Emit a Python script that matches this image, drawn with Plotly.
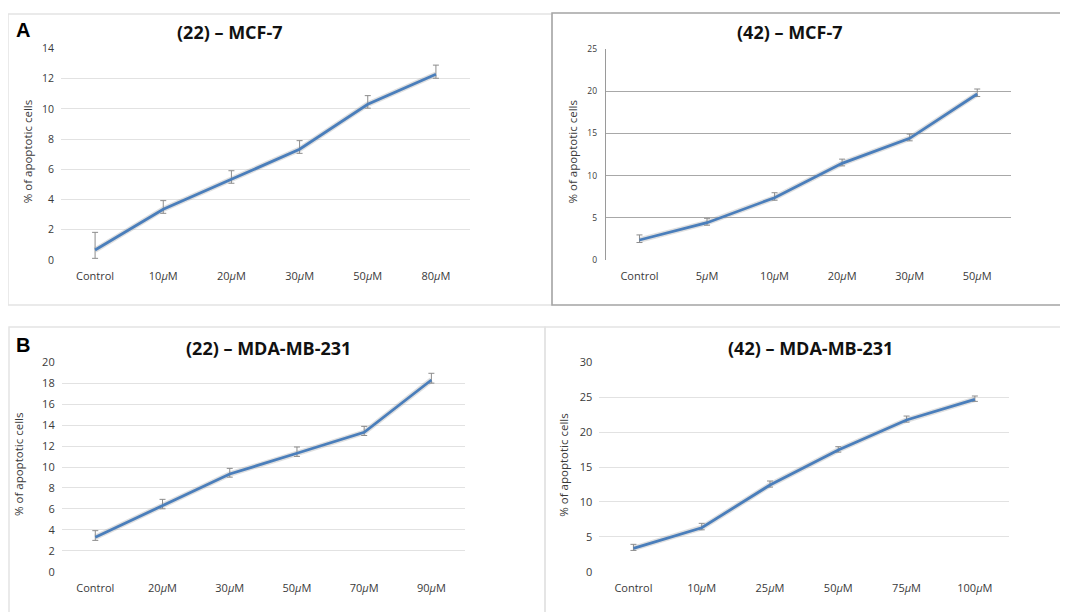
import plotly.graph_objects as go

# page is rendered with an 8px body margin; size the figure to fit the window
OFF = 8
W, H = 1068 - OFF, 612 - OFF

# ---------------- data ----------------
cat_22_mcf = ["Control", "10<i>μ</i>M", "20<i>μ</i>M", "30<i>μ</i>M", "50<i>μ</i>M", "80<i>μ</i>M"]
val_22_mcf = [0.66, 3.36, 5.34, 7.33, 10.31, 12.3]
up_22_mcf = [1.17, 0.57, 0.57, 0.57, 0.57, 0.6]
dn_22_mcf = [0.55, 0.27, 0.26, 0.27, 0.26, 0.27]

cat_42_mcf = ["Control", "5<i>μ</i>M", "10<i>μ</i>M", "20<i>μ</i>M", "30<i>μ</i>M", "50<i>μ</i>M"]
val_42_mcf = [2.37, 4.42, 7.38, 11.45, 14.42, 19.67]
up_42_mcf = [0.6, 0.52, 0.59, 0.5, 0.5, 0.59]
dn_42_mcf = [0.3, 0.3, 0.3, 0.3, 0.3, 0.3]

cat_22_mda = ["Control", "20<i>μ</i>M", "30<i>μ</i>M", "50<i>μ</i>M", "70<i>μ</i>M", "90<i>μ</i>M"]
val_22_mda = [3.29, 6.31, 9.33, 11.31, 13.31, 18.31]
up_22_mda = [0.63, 0.6, 0.54, 0.6, 0.57, 0.64]
dn_22_mda = [0.3, 0.3, 0.3, 0.3, 0.3, 0.3]

cat_42_mda = ["Control", "10<i>μ</i>M", "25<i>μ</i>M", "50<i>μ</i>M", "75<i>μ</i>M", "100<i>μ</i>M"]
val_42_mda = [3.35, 6.3, 12.42, 17.43, 21.73, 24.7]
up_42_mda = [0.57, 0.63, 0.57, 0.48, 0.57, 0.47]
dn_42_mda = [0.3, 0.3, 0.3, 0.3, 0.3, 0.3]

titles = ["(22) – MCF-7", "(42) – MCF-7", "(22) – MDA-MB-231", "(42) – MDA-MB-231"]
ytitle = "% of apoptotic cells"


def px(x):
    return (x - OFF) / W


def py(y):
    return 1 - (y - OFF) / H


LINE = "#4a7ebb"
FONT = "Open Sans"

panels = [
    dict(cats=cat_22_mcf, vals=val_22_mcf, up=up_22_mcf, dn=dn_22_mcf,
         x0=61, x1=470, y0=48.5, y1=260, rng=[0, 14], dt=2,
         grid="#e2e2e2", axisline=False, tickfs=10.5, ytx=27),
    dict(cats=cat_42_mcf, vals=val_42_mcf, up=up_42_mcf, dn=dn_42_mcf,
         x0=605.7, x1=1011, y0=49, y1=260, rng=[0, 25], dt=5,
         grid="#a8a8a8", axisline=True, tickfs=8.5, ytx=572),
    dict(cats=cat_22_mda, vals=val_22_mda, up=up_22_mda, dn=dn_22_mda,
         x0=61.7, x1=465, y0=362.3, y1=571.7, rng=[0, 20], dt=2,
         grid="#e2e2e2", axisline=False, tickfs=11, ytx=18),
    dict(cats=cat_42_mda, vals=val_42_mda, up=up_42_mda, dn=dn_42_mda,
         x0=599.3, x1=1009, y0=362.3, y1=571.7, rng=[0, 30], dt=5,
         grid="#e2e2e2", axisline=False, tickfs=11, ytx=562.7),
]

fig = go.Figure()
layout = {}
annotations = []
shapes = []

for i, p in enumerate(panels):
    n = "" if i == 0 else str(i + 1)
    xa, ya = "x" + n, "y" + n
    # soft shadow / glow under the line
    fig.add_trace(go.Scatter(
        x=p["cats"], y=p["vals"], xaxis=xa, yaxis=ya, mode="lines",
        line=dict(color="rgba(150,150,150,0.3)", width=5.5),
        hoverinfo="skip", showlegend=False))
    fig.add_trace(go.Scatter(
        x=p["cats"], y=p["vals"], xaxis=xa, yaxis=ya, mode="lines",
        line=dict(color=LINE, width=2.8),
        error_y=dict(type="data", symmetric=False, array=p["up"], arrayminus=p["dn"],
                     color="#8c8c8c", thickness=1, width=3),
        showlegend=False))
    layout["xaxis" + n] = dict(
        domain=[px(p["x0"]), px(p["x1"])], anchor=ya, type="category",
        range=[-0.5, 5.5], showgrid=False, zeroline=False, showline=False,
        ticks="", ticklabelstandoff=8, automargin=False,
        tickfont=dict(family=FONT, size=11, color="#3a3a3a"),
        fixedrange=True)
    layout["yaxis" + n] = dict(
        domain=[py(p["y1"]), py(p["y0"])], anchor=xa, range=p["rng"], dtick=p["dt"],
        showgrid=True, gridcolor=p["grid"], gridwidth=1, zeroline=False,
        showline=p["axisline"], linecolor="#9a9a9a", linewidth=1,
        ticks="", ticklabelstandoff=6, automargin=False,
        tickfont=dict(family=FONT, size=p["tickfs"], color="#3a3a3a"),
        fixedrange=True)
    # y-axis title as annotation
    annotations.append(dict(
        x=px(p["ytx"]), y=py((p["y0"] + p["y1"]) / 2 - 2), xref="paper", yref="paper",
        xanchor="center", yanchor="middle",
        text=ytitle, textangle=-90, showarrow=False,
        font=dict(family=FONT, size=11.5, color="#3a3a3a")))

# titles
title_pos = [(230, 32), (790, 32), (268, 348), (810, 348)]
for t, (x, y) in zip(titles, title_pos):
    annotations.append(dict(x=px(x), y=py(y), xref="paper", yref="paper", text="<b>" + t + "</b>",
                            xanchor="center", yanchor="middle",
                            showarrow=False, font=dict(family=FONT, size=18, color="#111111")))

# panel letters
for t, (x, y) in zip(["A", "B"], [(23, 30), (23, 345)]):
    annotations.append(dict(x=px(x), y=py(y), xref="paper", yref="paper", text="<b>" + t + "</b>",
                            xanchor="center", yanchor="middle",
                            showarrow=False, font=dict(family="Liberation Sans", size=20, color="#000000")))

# panel borders
boxes = [
    (8, 14, 552, 305, "#e4e4e4"),
    (9, 327, 545, 640, "#e4e4e4"),
    (545, 327, 1080, 640, "#e4e4e4"),
    (552, 13, 1080, 305, "#a4a4a4"),
]
for x0, y0, x1, y1, c in boxes:
    shapes.append(dict(type="rect", xref="paper", yref="paper",
                       x0=px(x0), x1=px(x1), y0=py(y1), y1=py(y0),
                       line=dict(color=c, width=1.5), layer="below"))

fig.update_layout(
    width=W, height=H, margin=dict(l=0, r=0, t=0, b=0),
    paper_bgcolor="white", plot_bgcolor="white",
    annotations=annotations, shapes=shapes, showlegend=False,
    **layout)

fig.write_html("out.html")
